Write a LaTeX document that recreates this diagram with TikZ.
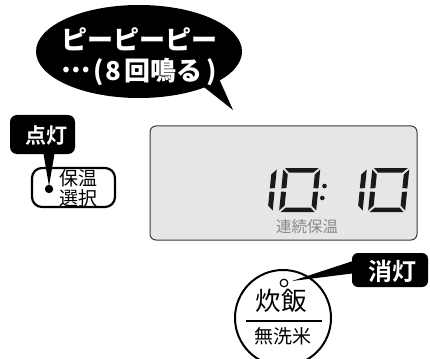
\documentclass[tikz,border=0pt]{standalone}
\usepackage{fontspec}
\newfontfamily\jp{Noto Sans CJK JP}
\newfontfamily\jpb{Noto Sans CJK JP Bold}
\newfontfamily\jpk{Noto Sans CJK JP Black}
\definecolor{lcdfill}{HTML}{E6E6E6}
\definecolor{lcdline}{HTML}{3A3A3A}
\definecolor{lcdtext}{HTML}{8A8A8A}
\definecolor{segcol}{HTML}{1A1A1A}
\tikzset{
  txt/.style={inner sep=0pt, outer sep=0pt, anchor=center},
  wlabel/.style={txt, text=white, font=\jpb},
  seg/.style={fill=segcol},
}
\newcommand\middots{\raisebox{0.33em}[0pt][0pt]{…}}
\newcommand\lcdzero[2]{%
  \begin{scope}[shift={(#1,#2)}, y=1pt, xslant=0.1]
    \fill[seg] (1.5,44) -- (35.5,44) -- (30.5,39.5) -- (6,39.5) -- cycle;
    \fill[seg] (1.5,0) -- (35.5,0) -- (31,4.5) -- (6.5,4.5) -- cycle;
    \fill[seg] (0,42.5) -- (5,37.5) -- (5,24) -- (0,23.5) -- cycle;
    \fill[seg] (0,1.5) -- (5,6.5) -- (5,20) -- (0,20.5) -- cycle;
    \fill[seg] (37,42.5) -- (32,37.5) -- (32,24) -- (37,23.5) -- cycle;
    \fill[seg] (37,1.5) -- (32,6.5) -- (32,20) -- (37,20.5) -- cycle;
  \end{scope}}
\newcommand\lcdone[2]{%
  \begin{scope}[shift={(#1,#2)}, y=1pt, xslant=0.1]
    \fill[seg] (5,42.5) -- (0,37.5) -- (0,23.5) -- (5,24) -- cycle;
    \fill[seg] (5,1.5) -- (0,6.5) -- (0,20.5) -- (5,20) -- cycle;
  \end{scope}}
\begin{document}
\begin{tikzpicture}[x=1pt,y=-1pt]
\useasboundingbox (0,0) rectangle (430,358);

% speech bubble
\fill[black] (139,51.5) ellipse [x radius=103, y radius=46.5];
\coordinate (btip) at (233,110);
\fill[black] (190,76) -- (btip) -- (216,72) -- cycle;
\node[wlabel, align=center, font=\jpk\fontsize{26}{31}\selectfont] (bub) at (139,57)
  {ピーピーピー\\\middots\kern3pt(\kern1.5pt8\kern3pt回鳴る\kern4pt)};

% 点灯 label
\fill[black, rounded corners=7pt] (10,115) rectangle (75,154);
\coordinate (dot) at (49,189);
\fill[black] (43,151) -- (49,186) -- (55,151) -- cycle;
\node[wlabel, font=\jpb\fontsize{21}{21}\selectfont] (on) at (46,135) {点灯};

% 保温選択 button
\draw[line width=2.2pt, rounded corners=10pt] (32,168) rectangle (115,207);
\fill[black] (dot) circle (4.2);
\node[txt, font=\jp\fontsize{19}{19}\selectfont] (k1) at (78.5,178.5) {保温};
\node[txt, font=\jp\fontsize{19}{19}\selectfont] (k2) at (78.5,198) {選択};

% LCD
\draw[fill=lcdfill, draw=lcdline, line width=1pt, rounded corners=6pt] (150,126) rectangle (417,240);
\lcdone{267.5}{212}
\lcdzero{279}{212}
\fill[segcol] (324.5,186) circle (2.3);
\fill[segcol] (322.3,198) circle (2.3);
\lcdone{357.5}{212}
\lcdzero{368}{212}
\node[txt, text=lcdtext, font=\jp\fontsize{15.5}{15.5}\selectfont] (cont) at (307,227) {連続保温};

% 消灯 label
\fill[black, rounded corners=6pt] (352,253) rectangle (428,287);
\fill[black] (356,260) -- (292,281) -- (356,273) -- cycle;
\node[wlabel, font=\jpb\fontsize{24}{24}\selectfont] (off) at (392,271) {消灯};

% 炊飯 button
\draw[line width=2pt] (283,318) circle (48);
\draw[line width=1.2pt, fill=white] (284,283) circle (3.8);
\node[txt, font=\jp\fontsize{25.5}{25.5}\selectfont] (cook) at (281,301) {炊飯};
\draw[line width=1.5pt] (246,321) -- (322,321);
\node[txt, font=\jp\fontsize{19}{19}\selectfont] (mus) at (283,336) {無洗米};
\end{tikzpicture}
\end{document}
